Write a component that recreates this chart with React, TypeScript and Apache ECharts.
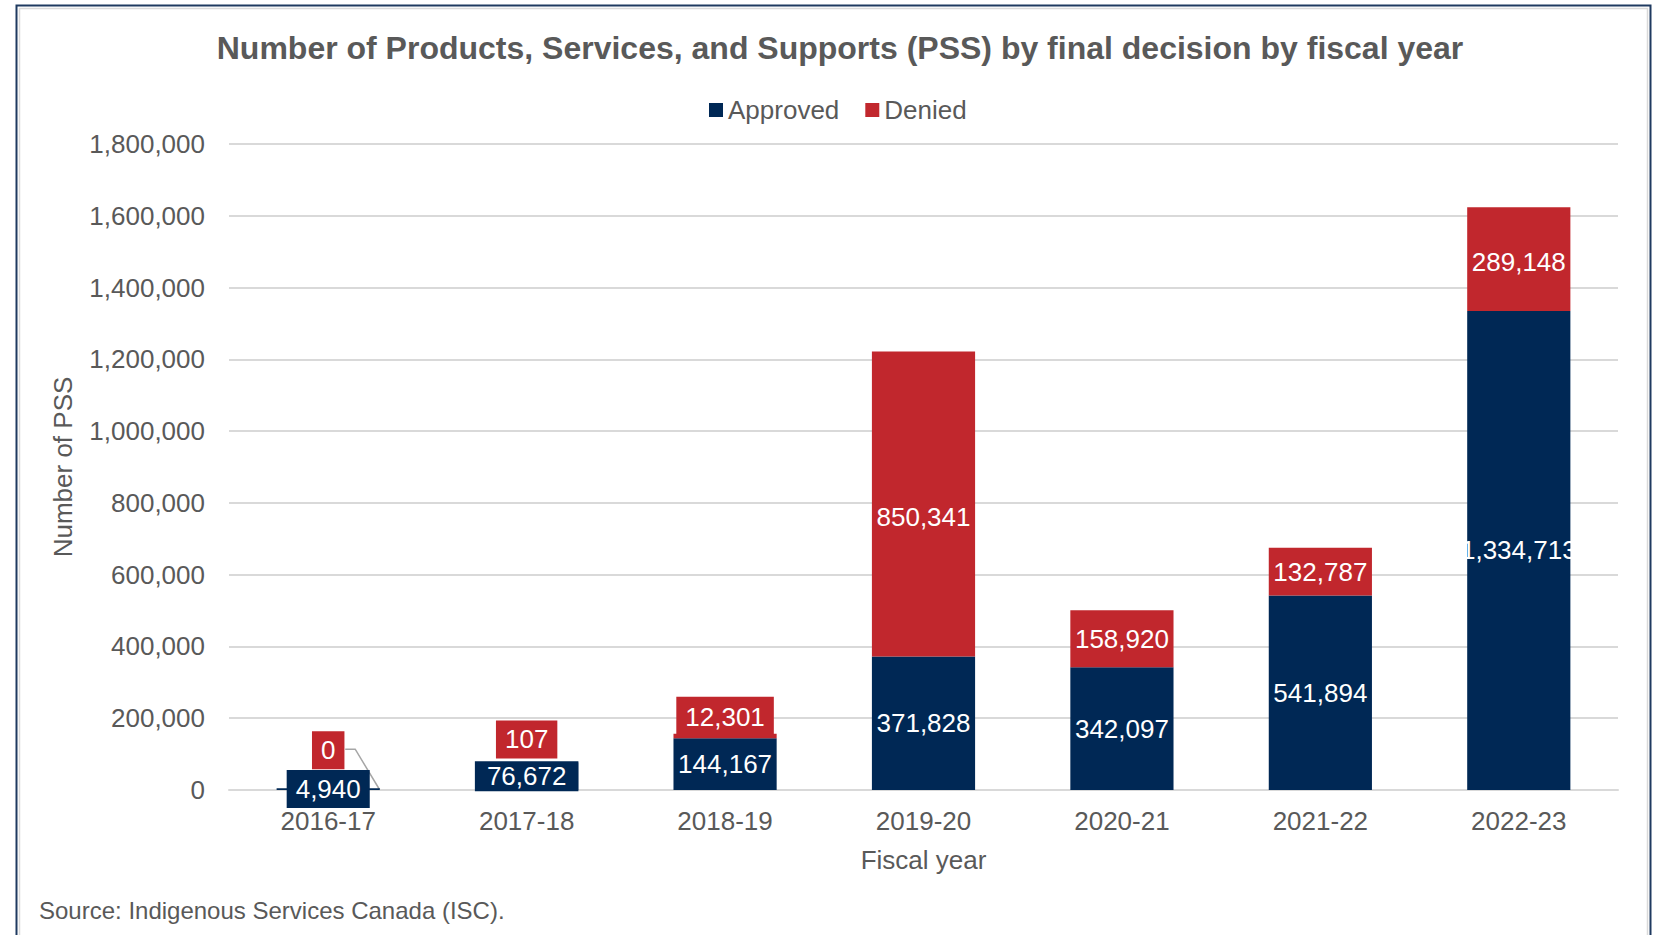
import React, { useEffect, useRef } from "react";
import * as echarts from "echarts";

const categories = ["2016-17", "2017-18", "2018-19", "2019-20", "2020-21", "2021-22", "2022-23"];
const approved = [4940, 76672, 144167, 371828, 342097, 541894, 1334713];
const denied = [0, 107, 12301, 850341, 158920, 132787, 289148];
const yTicks = { min: 0, max: 1800000, interval: 200000 };

const NAVY = "#002855";
const RED = "#C1272D";
const GREY = "#595959";
const FONT = "'Liberation Sans', Arial, Helvetica, sans-serif";

const fmt = (v: number) => v.toLocaleString("en-US");

// label overrides for segments too small to hold their label, or moved by hand
const approvedLabelOverride: Record<number, any> = {
  0: { backgroundColor: NAVY, padding: [4, 9] },
  1: { backgroundColor: NAVY, padding: [0, 12] },
};
const deniedLabelOverride: Record<number, any> = {
  0: { position: "top", distance: 19, backgroundColor: RED, padding: [4, 9] },
  1: { position: "top", distance: 4, backgroundColor: RED, padding: [4, 9] },
  2: { position: "top", distance: -3, backgroundColor: RED, padding: [5, 9] },
  3: { offset: [0, 13] },
  6: { offset: [0, 3] },
};

export default function App() {
  const ref = useRef<HTMLDivElement>(null);
  useEffect(() => {
    if (!ref.current) return;
    const chart = echarts.init(ref.current, null, { renderer: "svg" });
    const baseLabel = {
      show: true,
      position: "inside",
      color: "#fff",
      fontSize: 26,
      lineHeight: 30,
      fontFamily: FONT,
      formatter: (p: any) => fmt(p.value),
    };
    const option: any = {
      animation: false,
      backgroundColor: "#fff",
      textStyle: { fontFamily: FONT },
      title: {
        text: "Number of Products, Services, and Supports (PSS) by final decision by fiscal year",
        left: 835,
        top: 25,
        textAlign: "center",
        textStyle: { fontSize: 32, fontWeight: "bold", color: GREY, fontFamily: FONT, lineHeight: 36 },
      },
      legend: {
        left: 704,
        top: 90,
        itemWidth: 14,
        itemHeight: 14,
        itemGap: 26,
        icon: "rect",
        textStyle: { fontSize: 26, color: GREY, fontFamily: FONT, lineHeight: 30 },
        data: ["Approved", "Denied"],
      },
      grid: { left: 229, right: 40, top: 144, bottom: 145, containLabel: false },
      xAxis: {
        type: "category",
        data: categories,
        name: "Fiscal year",
        nameLocation: "middle",
        nameGap: 55,
        nameTextStyle: { fontSize: 26, color: GREY, fontFamily: FONT, lineHeight: 30 },
        axisLine: { show: true, lineStyle: { color: "#D9D9D9", width: 2 } },
        axisTick: { show: false },
        axisLabel: { fontSize: 26, color: GREY, margin: 16, fontFamily: FONT, lineHeight: 30 },
      },
      yAxis: {
        type: "value",
        min: yTicks.min,
        max: yTicks.max,
        interval: yTicks.interval,
        name: "Number of PSS",
        nameLocation: "middle",
        nameGap: 151,
        nameRotate: 90,
        nameTextStyle: { fontSize: 26, color: GREY, fontFamily: FONT, lineHeight: 30 },
        axisLine: { show: false },
        axisTick: { show: false },
        splitLine: { lineStyle: { color: "#D9D9D9", width: 2 } },
        axisLabel: {
          fontSize: 26,
          color: GREY,
          margin: 24,
          fontFamily: FONT,
          formatter: (v: number) => fmt(v),
        },
      },
      series: [
        {
          name: "Approved",
          type: "bar",
          stack: "total",
          barWidth: "52%",
          itemStyle: { color: NAVY },
          label: baseLabel,
          data: approved.map((v, i) =>
            approvedLabelOverride[i] ? { value: v, label: approvedLabelOverride[i] } : v
          ),
        },
        {
          name: "Denied",
          type: "bar",
          stack: "total",
          barWidth: "52%",
          itemStyle: { color: RED },
          label: baseLabel,
          data: denied.map((v, i) =>
            deniedLabelOverride[i] ? { value: v, label: deniedLabelOverride[i] } : v
          ),
        },
      ],
      graphic: [
        {
          type: "rect",
          silent: true,
          shape: { x: 16.5, y: 5.5, width: 1634, height: 1000 },
          style: { fill: "none", stroke: "#1F3A60", lineWidth: 2 },
        },
        {
          type: "rect",
          silent: true,
          shape: { x: 19.5, y: 8.5, width: 1628, height: 1000 },
          style: { fill: "none", stroke: "#DADADA", lineWidth: 1.5 },
        },
        {
          type: "text",
          left: 39,
          top: 898,
          style: {
            text: "Source: Indigenous Services Canada (ISC).",
            fontSize: 24,
            fill: GREY,
            fontFamily: FONT,
          },
        },
      ],
    };
    chart.setOption(option);

    // leader line from the "0" label to its (zero-height) segment
    const top0 = chart.convertToPixel({ xAxisIndex: 0, yAxisIndex: 0 }, [0, approved[0] + denied[0]]);
    const base0 = chart.convertToPixel({ xAxisIndex: 0, yAxisIndex: 0 }, [0, 0]);
    const next = chart.convertToPixel({ xAxisIndex: 0, yAxisIndex: 0 }, [1, 0]);
    const catW = next[0] - base0[0];
    const halfBar = (catW * 0.52) / 2;
    const ly = top0[1] - 19 - 20;
    option.graphic.push({
      type: "polyline",
      silent: true,
      shape: {
        points: [
          [top0[0] + 17, ly],
          [top0[0] + 27, ly],
          [base0[0] + halfBar, base0[1]],
        ],
      },
      style: { fill: "none", stroke: "#A6A6A6", lineWidth: 1.5 },
    });
    chart.setOption({ graphic: option.graphic });

    return () => chart.dispose();
  }, []);
  return (
    <div
      ref={ref}
      style={{ position: "absolute", left: 0, top: 0, width: 1658, height: 935 }}
    />
  );
}
